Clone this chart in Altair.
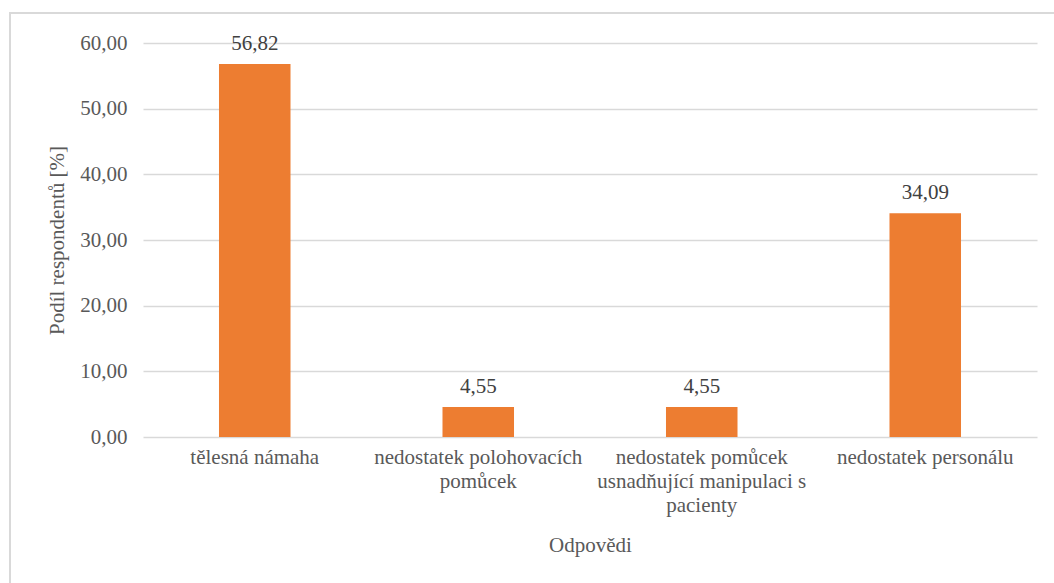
import altair as alt
import pandas as pd

# Survey answers and their share of respondents (%)
categories = [
    "tělesná námaha",
    "nedostatek polohovacích pomůcek",
    "nedostatek pomůcek usnadňující manipulaci s pacienty",
    "nedostatek personálu",
]
shares = [56.82, 4.55, 4.55, 34.09]

# Wrapped axis labels, one list of lines per category
label_lines = [
    ["tělesná námaha"],
    ["nedostatek polohovacích", "pomůcek"],
    ["nedostatek pomůcek", "usnadňující manipulaci s", "pacienty"],
    ["nedostatek personálu"],
]

df = pd.DataFrame({"odpoved": categories, "podil": shares})

FONT = "Liberation Serif"
SIZE = 21
GREY = "#595959"

label_expr = " : ".join(
    [f"datum.value == '{c}' ? {lines!r}" for c, lines in zip(categories, label_lines)]
    + ["datum.value"]
)

base = alt.Chart(df).encode(
    x=alt.X(
        "odpoved:N",
        sort=categories,
        title="Odpovědi",
        scale=alt.Scale(paddingInner=0.68, paddingOuter=0.34),
        axis=alt.Axis(
            labelAngle=0,
            labelExpr=label_expr,
            labelFont=FONT,
            labelFontSize=SIZE,
            labelColor=GREY,
            labelPadding=9,
            labelLimit=300,
            labelLineHeight=24,
            domain=False,
            ticks=False,
            titleFont=FONT,
            titleFontSize=SIZE,
            titleFontWeight="normal",
            titleColor=GREY,
            titlePadding=19,
        ),
    ),
    y=alt.Y(
        "podil:Q",
        title="Podíl respondentů [%]",
        scale=alt.Scale(domain=[0, 60], nice=False),
        axis=alt.Axis(
            values=[0, 10, 20, 30, 40, 50, 60],
            labelExpr="replace(format(datum.value, '.2f'), '.', ',')",
            labelFont=FONT,
            labelFontSize=SIZE,
            labelColor=GREY,
            labelPadding=16,
            domain=False,
            ticks=False,
            grid=True,
            gridColor="#d9d9d9",
            gridWidth=1.5,
            titleFont=FONT,
            titleFontSize=SIZE,
            titleFontWeight="normal",
            titleColor=GREY,
            titlePadding=12,
        ),
    ),
)

bars = base.mark_bar(color="#ED7D31")

labels = base.transform_calculate(
    txt="replace(format(datum.podil, '.2f'), '.', ',')"
).mark_text(
    dy=-10, baseline="bottom", font=FONT, fontSize=SIZE, color="#404040"
).encode(text="txt:N")

chart = (
    alt.layer(bars, labels)
    .properties(
        width=894,
        height=394,
        autosize=alt.AutoSizeParams(type="none"),
        padding={"left": 143, "top": 43, "right": 17, "bottom": 146},
    )
    .configure_view(stroke=None)
)

chart.save("out.html", embed_options={"renderer": "svg", "actions": False})

# Light frame around the whole chart area
with open("out.html", encoding="utf-8") as f:
    html = f.read()
frame_css = (
    "<style>body{margin:0}"
    "#frame{position:fixed;left:9px;top:12px;width:1100px;height:700px;"
    "border:2px solid #d9d9d9;box-sizing:border-box;pointer-events:none;z-index:10}</style>"
)
html = html.replace("</head>", frame_css + "</head>", 1)
html = html.replace("</body>", "<div id=\"frame\"></div></body>", 1)
with open("out.html", "w", encoding="utf-8") as f:
    f.write(html)
